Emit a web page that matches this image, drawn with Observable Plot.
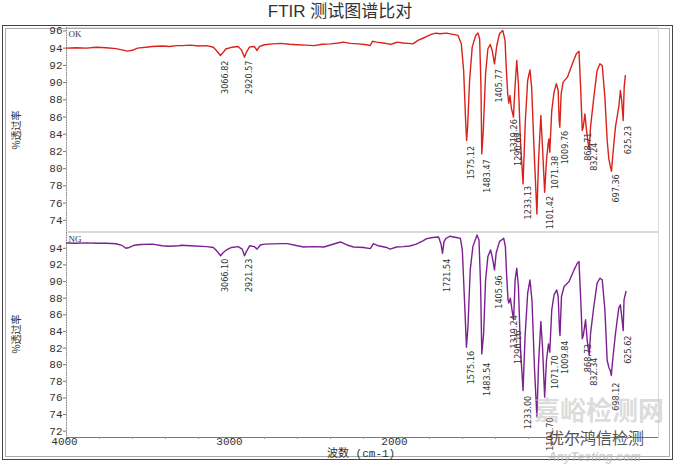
<!DOCTYPE html>
<html><head><meta charset="utf-8">
<script src="https://cdn.jsdelivr.net/npm/d3@7"></script>
<script src="https://cdn.jsdelivr.net/npm/@observablehq/plot@0.6"></script>
<style>
html,body{margin:0;padding:0;background:#fff;}
#page{position:relative;width:680px;height:470px;overflow:hidden;background:#fff;}
#title{position:absolute;left:0;top:3px;width:680px;text-align:center;font:17px/18px "Liberation Sans","Noto Sans CJK SC",sans-serif;color:#333;}
#frame{position:absolute;left:2px;top:25px;width:671px;height:435px;border:1px solid #444;box-shadow:inset 0 0 0 2px #fff,inset 0 0 0 3px #aaa;box-sizing:border-box;}
.ylab{position:absolute;transform:translate(-50%,-50%) rotate(-90deg);white-space:nowrap;font:10px "Noto Sans CJK SC",sans-serif;color:#333;}
#xlabel{position:absolute;left:327px;top:449px;font:11px/11px "Liberation Mono","Noto Sans CJK SC",monospace;color:#333;white-space:nowrap;}
#wm1{position:absolute;left:534px;top:396px;font:bold 26px/26px "Noto Sans CJK SC",sans-serif;color:rgba(190,190,190,0.55);white-space:nowrap;}
#wm2{position:absolute;left:548px;top:451px;font:italic bold 12px/12px "Liberation Sans",sans-serif;color:rgba(185,185,185,0.7);white-space:nowrap;}
#wm3{position:absolute;left:548px;top:430px;font:16px/15px "Noto Sans CJK SC",sans-serif;color:#555;white-space:nowrap;}
</style></head><body>
<div id="page">
  <div id="title">FTIR 测试图谱比对</div>
  <div id="frame"></div>
  <div class="ylab" style="left:15px;top:130px">%透过率</div>
  <div class="ylab" style="left:15px;top:334px">%透过率</div>
  <div id="xlabel">波数 (cm-1)</div>
</div>
<script>
// ---- data ----
const okWn = [
4000,3940,3880,3820,3760,3700,3665,3630,3600,3570,
3520,3480,3420,3376,3330,3300,3250,3200,3150,3110,
3090,3067,3055,3035,3000,2960,2940,2921,2910,2890,
2862,2845,2830,2800,2750,2700,2650,2600,2550,2500,
2450,2400,2350,2322,2280,2230,2180,2160,2145,2120,
2080,2050,2035,2010,1995,1960,1930,1900,1870,1840,
1816,1790,1760,1737,1697,1657,1627,1607,1593,1581,
1575,1569,1557,1541,1520,1506,1496,1488,1483,1474,
1460,1446,1432,1420,1406,1392,1376,1356,1342,1336,
1326,1319,1312,1304,1291,1283,1271,1261,1249,1233,
1219,1205,1191,1181,1165,1149,1139,1125,1115,1102,
1091,1081,1076,1071,1059,1045,1031,1020,1014,1010,
1002,990,964,934,910,894,884,874,868,858,
848,838,832,824,804,784,767,753,737,723,
713,703,697,690,673,653,643,635,626,620,
613];
const okT = [
94.0,94.05,94.0,94.1,94.05,93.95,93.8,93.65,93.75,94.0,
94.1,94.2,94.25,94.2,94.3,94.3,94.35,94.25,94.3,94.1,
93.7,93.15,93.4,93.9,94.1,94.2,93.8,92.95,93.5,94.15,
94.2,93.73,94.2,94.4,94.5,94.55,94.45,94.4,94.35,94.3,
94.45,94.5,94.6,94.7,94.55,94.5,94.4,94.3,94.8,94.7,
94.6,94.5,94.43,94.6,94.7,94.6,94.55,94.5,94.9,95.15,
95.36,95.6,95.74,95.67,95.75,95.6,95.48,94.5,91.4,85.6,
83.27,84.8,90.24,94.12,95.48,95.75,95.09,89.47,81.72,84.43,
91.02,93.93,94.43,93.73,92.18,94.31,95.67,96.06,94.9,92.18,
88.7,87.6,88.5,87.06,85.98,89.08,92.57,89.86,83.27,78.23,
85.6,90.24,91.48,89.47,81.72,74.74,80.94,86.17,82.49,77.26,
80.94,82.88,83.46,81.91,86.75,88.89,89.86,89.08,85.6,84.82,
88.69,90.05,90.63,92.18,93.34,93.65,89.47,84.43,84.82,86.37,
84.43,82.88,82.3,84.82,88.31,91.41,92.18,91.99,88.31,83.27,
81.14,80.17,79.7,81.33,84.82,87.14,89.08,87.92,85.6,89.47,
90.83];

const ngWn = [
4000,3940,3880,3820,3760,3700,3665,3640,3620,3590,
3550,3480,3420,3376,3320,3300,3250,3150,3110,3090,
3066,3050,3030,3000,2960,2935,2921,2910,2890,2862,
2845,2825,2800,2700,2661,2600,2563,2500,2440,2400,
2340,2300,2260,2200,2159,2140,2110,2060,2039,2000,
1960,1920,1880,1840,1817,1780,1745,1730,1721,1712,
1700,1677,1637,1613,1601,1587,1576,1567,1553,1537,
1512,1500,1490,1483,1472,1460,1446,1430,1420,1406,
1396,1376,1350,1340,1332,1324,1319,1310,1300,1290,
1281,1271,1261,1249,1233,1221,1205,1191,1179,1163,
1149,1139,1125,1115,1102,1091,1079,1071,1059,1045,
1029,1020,1012,1009,1000,984,954,924,904,894,
884,874,868,854,844,832,824,804,784,767,
753,737,723,713,703,698,690,673,653,643,
635,626,621,609];
const ngT = [
94.64,94.6,94.65,94.6,94.6,94.55,94.36,94.0,94.1,94.36,
94.45,94.5,94.3,94.24,94.3,94.36,94.3,94.2,94.1,93.7,
93.1,93.5,93.8,94.1,94.2,93.9,93.1,93.6,94.3,94.2,
93.9,94.4,94.5,94.56,94.56,94.3,94.16,94.2,94.16,94.4,
94.76,94.4,94.16,94.1,93.96,94.56,94.3,94.1,93.9,94.16,
94.2,94.28,94.5,94.9,95.16,95.3,95.36,94.5,93.4,94.8,
95.2,95.45,95.3,95.2,93.8,87.4,82.1,84.5,91.4,94.2,
95.6,95.0,89.4,81.3,83.7,90.2,93.0,93.8,93.0,91.4,
93.4,94.8,95.2,94.2,90.6,87.8,87.4,88.0,86.6,85.4,
90.2,91.6,89.4,82.1,76.9,83.3,88.6,90.2,87.8,79.3,
73.7,80.1,85.2,82.1,76.1,80.5,82.5,81.5,86.6,88.4,
89.0,88.2,84.1,83.5,88.2,89.4,90.0,91.4,92.2,92.4,
88.2,83.1,83.5,85.4,82.9,81.1,83.7,87.0,89.8,90.4,
90.2,86.6,80.5,79.7,79.2,78.7,80.5,83.7,86.8,87.2,
85.8,84.1,87.8,88.8];

const okPeakLabels = ["3066.82","2920.57","1575.12","1483.47","1405.77","1319.26","1290.69","1233.13","1101.42","1071.38","1009.76","868.71","832.24","697.36","625.23"];
const okPeakT      = [92.8,92.8,82.88,81.33,91.8,85.98,84.43,78.23,77.07,81.72,84.63,84.43,83.27,79.58,85.21];
const ngPeakLabels = ["3066.10","2921.23","1721.54","1575.16","1483.54","1405.96","1319.24","1290.16","1233.00","1101.70","1071.70","1009.84","868.73","832.34","698.12","625.62"];
const ngPeakT      = [93.0,93.0,93.0,81.9,80.5,91.0,86.2,84.35,76.5,73.9,81.35,83.15,82.75,81.1,78.1,83.75];

const okYTicks = [74,76,78,80,82,84,86,88,90,92,94,96];
const ngYTicks = [72,74,76,78,80,82,84,86,88,90,92,94];
const xTickLabels = [4000,3000,2000];
const xMajor = [4000,3000,2000,1000];
const xMinor = [3800,3600,3400,3200,2800,2600,2400,2200,1800,1600,1400,1200,800,600];

// ---- build ----
const RED = "#d8231b", PURPLE = "#7c2190";
const MONO = "Liberation Mono, monospace";
const NARROW = "DejaVu Sans Condensed, DejaVu Sans, sans-serif";
const xDomain = [4000, 412];
const plain = d => `${d}`;

function panel({wn, t, color, yDomain, yTicks, peakLabels, peakT, tag, height, marginTop, marginBottom, xAxis}) {
  const series = wn.map((w, i) => ({wn: w, t: t[i]}));
  const peaks = peakLabels.map((s, i) => ({wn: parseFloat(s), t: peakT[i], label: s}));
  const marks = [
    Plot.frame({stroke: "#dadada"}),
    Plot.ruleX([xDomain[0]], {stroke: "#8a8a8a", strokeDasharray: "1.5,1"}),
    Plot.axisY(yTicks, {tickSize: 3, tickPadding: 1, tickFormat: plain, label: null, fontFamily: MONO, fontSize: 11, fill: "#333", stroke: "#777"}),
    Plot.line(series, {x: "wn", y: "t", stroke: color, strokeWidth: 1.4, strokeLinejoin: "round"}),
    Plot.text(peaks, {x: "wn", y: "t", text: "label", rotate: -90, textAnchor: "end", lineAnchor: "middle", dx: 5, dy: 2, fontFamily: NARROW, fontSize: 9, fill: "#333"}),
    Plot.text([tag], {text: d => d, frameAnchor: "top-left", textAnchor: "start", lineAnchor: "top", dx: 2, dy: 3, fontFamily: "Liberation Serif, serif", fontSize: 9, fill: "#333"})
  ];
  if (xAxis) {
    marks.push(
      Plot.ruleY([yDomain[0]], {stroke: "#777"}),
      Plot.axisX(xMajor, {tickSize: 3, fill: "none", label: null, stroke: "#777"}),
      Plot.axisX(xMinor, {tickSize: 2, fill: "none", label: null, stroke: "#999"}),
      Plot.axisX(xTickLabels, {tickSize: 0, tickPadding: 0, dx: -2, tickFormat: plain, label: null, fontFamily: MONO, fontSize: 11, fill: "#333"})
    );
  }
  return Plot.plot({
    width: 680, height, marginTop, marginBottom, marginLeft: 66, marginRight: 22,
    x: {domain: xDomain, axis: null, label: null},
    y: {domain: yDomain, axis: null, label: null},
    style: {position: "absolute", left: "0px", top: "0px", background: "transparent", overflow: "visible", color: "#333"},
    marks
  });
}

const page = document.getElementById("page");
page.appendChild(panel({wn: okWn, t: okT, color: RED, yDomain: [72.7, 96.4], yTicks: okYTicks,
  peakLabels: okPeakLabels, peakT: okPeakT, tag: "OK", height: 240, marginTop: 27, marginBottom: 9, xAxis: false}));
page.appendChild(panel({wn: ngWn, t: ngT, color: PURPLE, yDomain: [71.24, 95.9], yTicks: ngYTicks,
  peakLabels: ngPeakLabels, peakT: ngPeakT, tag: "NG", height: 470, marginTop: 232, marginBottom: 33, xAxis: true}));

// watermark overlay
for (const [id, txt] of [["wm1","嘉峪检测网"],["wm2","AnyTesting.com"],["wm3","优尔鸿信检测"]]) {
  const d = document.createElement("div"); d.id = id; d.textContent = txt; page.appendChild(d);
}
</script>
</body></html>
